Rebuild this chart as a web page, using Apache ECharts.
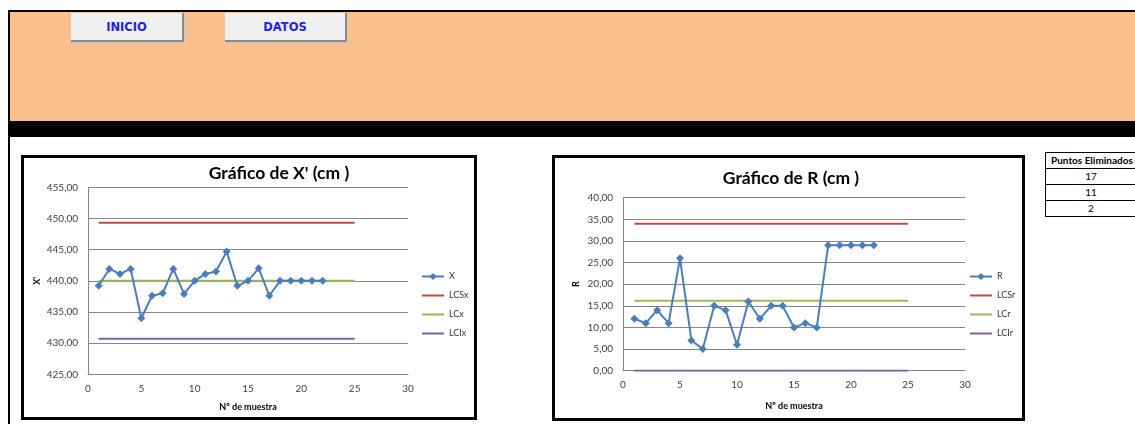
<!DOCTYPE html>
<html>
<head>
<meta charset="utf-8">
<title>Gráficos de control X' y R</title>
<script src="https://cdn.jsdelivr.net/npm/echarts@6/dist/echarts.min.js"></script>
<style>
  html, body { margin: 0; padding: 0; background: #fff; width: 1135px; height: 424px; overflow: hidden; }
  body { position: relative; font-family: Lato, "Noto Sans", sans-serif; }
  #frameTop { position: absolute; left: 8px; top: 10px; width: 1127px; height: 2px; background: #000; }
  #frameLeft { position: absolute; left: 8px; top: 10px; width: 2px; height: 414px; background: #000; }
  #banner { position: absolute; left: 10px; top: 12px; width: 1125px; height: 109px; background: #FABF8F; }
  #band { position: absolute; left: 10px; top: 121px; width: 1125px; height: 16px; background: #000; }
  .btn { position: absolute; top: 13px; height: 27px; background: #F0F0F0;
         border-right: 2px solid #8A8A8A; border-bottom: 2px solid #8A8A8A;
         box-shadow: 1px 1px 0 #C8C8C8;
         font-family: "DejaVu Sans", sans-serif; font-weight: bold; font-size: 11.5px;
         color: #1E1EF0; text-align: center; line-height: 29px; }
  #btnInicio { left: 71px; width: 111px; }
  #btnDatos { left: 225px; width: 120px; }
  .box { position: absolute; box-sizing: border-box; border: 3px solid #000; background: #fff; }
  #boxX { left: 21px; top: 155px; width: 456px; height: 265px; }
  #boxR { left: 552px; top: 155px; width: 473px; height: 266px; }
  #tbl { position: absolute; left: 1045px; top: 152px; width: 95px; border: 1px solid #000;
         font-family: Lato, "Noto Sans", sans-serif; font-size: 10px; color: #000; background: #fff; }
  #tbl div { height: 15px; line-height: 15px; border-top: 1px solid #000; text-align: center; padding-right: 5px; white-space: nowrap; overflow: hidden; }
  #tbl div.head { border-top: none; font-weight: bold; text-align: left; padding-left: 5px; }
  #chart { position: absolute; left: 0; top: 0; width: 1135px; height: 424px; }
</style>
</head>
<body>
<div id="frameTop"></div>
<div id="frameLeft"></div>
<div id="banner"></div>
<div id="band"></div>
<div class="btn" id="btnInicio">INICIO</div>
<div class="btn" id="btnDatos">DATOS</div>
<div class="box" id="boxX"></div>
<div class="box" id="boxR"></div>
<div id="tbl">
  <div class="head">Puntos Eliminados</div>
  <div>17</div>
  <div>11</div>
  <div>2</div>
</div>
<div id="chart"></div>
<script>
// Número de muestra
const samples = [1, 2, 3, 4, 5, 6, 7, 8, 9, 10, 11, 12, 13, 14, 15, 16, 17, 18, 19, 20, 21, 22];
// Media de cada muestra (cm)
const xMeans = [439.2, 441.9, 441.1, 441.9, 434.0, 437.6, 438.0, 441.9, 437.9, 440.0, 441.1,
                441.5, 444.7, 439.2, 440.0, 442.0, 437.6, 440.0, 440.0, 440.0, 440.0, 440.0];
// Rango de cada muestra (cm)
const ranges = [12, 11, 14, 11, 26, 7, 5, 15, 14, 6, 16, 12, 15, 15, 10, 11, 10, 29, 29, 29, 29, 29];
// Las líneas de control se trazan de la muestra 1 a la 25
const limitSpan = [1, 25];
const LCSx = 449.3, LCx = 440.0, LCIx = 430.7;
const LCSr = 34.0, LCr = 16.2, LCIr = 0.0;

const FONT = 'Lato';
const GRID_GRAY = '#868686';
const BLUE = '#4A7EBB', RED = '#BE4B48', GREEN = '#98B954', PURPLE = '#7D60A0';

const fmt = v => v.toFixed(2).replace('.', ',');
const pairs = (xs, ys) => xs.map((x, i) => [x, ys[i]]);
const limitLine = v => limitSpan.map(s => [s, v]);

function xAxisFor(gridIndex, nameGap) {
  return {
    type: 'value', gridIndex, min: 0, max: 30, interval: 5,
    name: 'Nº de muestra', nameLocation: 'middle', nameGap,
    nameTextStyle: { fontFamily: FONT, fontWeight: 'bold', fontSize: 9, color: '#000' },
    axisLine: { show: true, lineStyle: { color: GRID_GRAY, width: 1 } },
    axisTick: { show: false },
    splitLine: { show: false },
    axisLabel: { fontFamily: FONT, fontSize: 10, color: '#404040', margin: 9 }
  };
}
function yAxisFor(gridIndex, min, max, name, nameGap) {
  return {
    type: 'value', gridIndex, min, max, interval: 5,
    name, nameLocation: 'middle', nameGap,
    nameTextStyle: { fontFamily: FONT, fontWeight: 'bold', fontSize: 9, color: '#000' },
    axisLine: { show: true, lineStyle: { color: GRID_GRAY, width: 1 } },
    axisTick: { show: false },
    splitLine: { show: true, lineStyle: { color: GRID_GRAY, width: 1 } },
    axisLabel: { fontFamily: FONT, fontSize: 10, color: '#404040', margin: 10, formatter: fmt }
  };
}
// First entry keeps its diamond marker; control-limit entries show a plain line
function legendAt(left, names) {
  return {
    data: names.map((n, i) => i === 0 ? { name: n } : { name: n, itemStyle: { opacity: 0 } }),
    orient: 'vertical', left, top: 272, padding: 0,
    itemWidth: 22, itemHeight: 9, itemGap: 10,
    textStyle: { fontFamily: FONT, fontSize: 9, color: '#333', lineHeight: 9 }
  };
}
function dataSeries(name, data, axis) {
  return {
    type: 'line', name, data, xAxisIndex: axis, yAxisIndex: axis,
    symbol: 'diamond', symbolSize: 8, animation: false,
    lineStyle: { color: BLUE, width: 2 }, itemStyle: { color: BLUE }, z: 5
  };
}
function limitSeries(name, value, color, axis) {
  return {
    type: 'line', name, data: limitLine(value), xAxisIndex: axis, yAxisIndex: axis,
    symbol: 'none', showSymbol: false, animation: false,
    lineStyle: { color, width: 2 }, itemStyle: { color }, z: 3
  };
}

const chart = echarts.init(document.getElementById('chart'), null, { renderer: 'canvas' });
chart.setOption({
  animation: false,
  backgroundColor: 'transparent',
  title: [
    { text: "Gráfico de X' (cm )", left: 274, top: 159, textAlign: 'center',
      textStyle: { fontFamily: FONT, fontWeight: 'bold', fontSize: 17.5, color: '#000' } },
    { text: 'Gráfico de R (cm )', left: 786, top: 164, textAlign: 'center',
      textStyle: { fontFamily: FONT, fontWeight: 'bold', fontSize: 17.5, color: '#000' } }
  ],
  legend: [
    legendAt(421, ['X', 'LCSx', 'LCx', 'LCIx']),
    legendAt(969, ['R', 'LCSr', 'LCr', 'LCIr'])
  ],
  grid: [
    { left: 88, top: 187.3, width: 320, height: 187 },
    { left: 623, top: 197.7, width: 342, height: 173 }
  ],
  xAxis: [xAxisFor(0, 28), xAxisFor(1, 31)],
  yAxis: [yAxisFor(0, 425, 455, "X'", 46), yAxisFor(1, 0, 40, 'R', 42)],
  series: [
    dataSeries('X', pairs(samples, xMeans), 0),
    limitSeries('LCSx', LCSx, RED, 0),
    limitSeries('LCx', LCx, GREEN, 0),
    limitSeries('LCIx', LCIx, PURPLE, 0),
    dataSeries('R', pairs(samples, ranges), 1),
    limitSeries('LCSr', LCSr, RED, 1),
    limitSeries('LCr', LCr, GREEN, 1),
    limitSeries('LCIr', LCIr, PURPLE, 1)
  ]
});
</script>
</body>
</html>
